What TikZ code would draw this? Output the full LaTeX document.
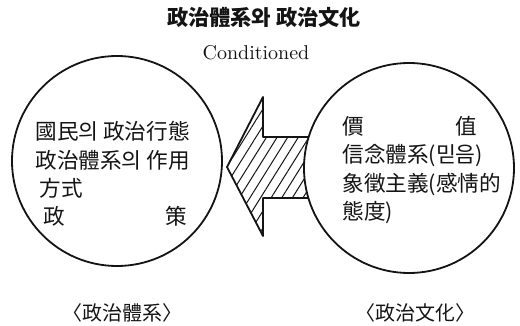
\documentclass[tikz,border=0pt]{standalone}
\usepackage{fontspec}
\newfontfamily\cjk{Noto Sans CJK KR}
\usepackage{tikz}
\usetikzlibrary{patterns.meta}
\definecolor{Ink}{HTML}{141414}

\begin{document}
\begin{tikzpicture}[x=0.5pt,y=-0.5pt,
    bubble/.style={circle,draw=Ink,line width=0.9pt,fill=white,minimum size=105pt,inner sep=0pt},
    isi/.style={font=\cjk\fontsize{10.8}{14.2}\selectfont,align=left,inner sep=0pt,anchor=north west,text=Ink}]
  \useasboundingbox (0,0) rectangle (520,326);

  \node[font=\cjk\bfseries\fontsize{10.6}{12}\selectfont,text=Ink] (judul) at (264,17) {政治體系와 政治文化};
  \node[font=\fontsize{10}{12}\selectfont,text=Ink] (cond) at (256,53) {Conditioned};

  % panah besar dari budaya ke sistem
  \coordinate (tip) at (227,167);
  \draw[Ink,line width=0.9pt,line join=round,
        pattern={Lines[angle=58,distance=4.5pt,line width=0.5pt]},pattern color=Ink]
    (tip) -- ++(36,-70) -- ++(0,40) -- ++(60,0) -- ++(0,61)
          -- ++(-60,0) -- ++(0,38) -- cycle;

  \node[bubble] (sistem) at (117,161) {};
  \node[bubble] (budaya) at (409,168) {};

  \node[isi] (isikiri) at (35,121) {
    國民의 政治行態\\
    政治體系의 作用\\
    \hspace{2pt}方式\\
    \hspace{4pt}\makebox[72pt][l]{政\hfill 策}
  };
  \node[isi] (isikanan) at (342,116) {
    \makebox[67.5pt][l]{價\hfill 值}\\
    信念體系(믿음)\\
    象徵主義(感情的\\
    態度)
  };

  \node[font=\cjk\fontsize{10}{12}\selectfont,text=Ink] (namasis) at (122,313) {〈政治體系〉};
  \node[font=\cjk\fontsize{10}{12}\selectfont,text=Ink] (namabud) at (415,313) {〈政治文化〉};
\end{tikzpicture}
\end{document}
